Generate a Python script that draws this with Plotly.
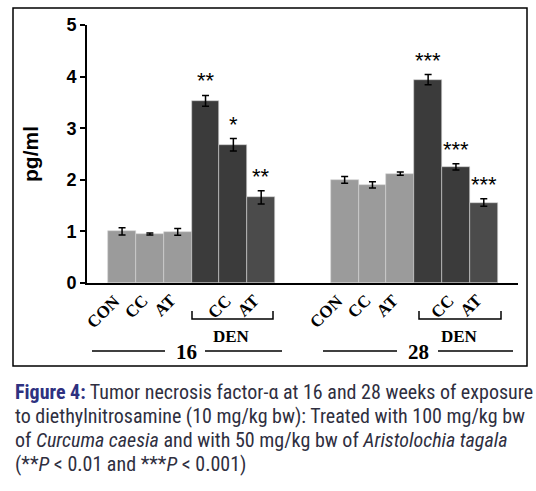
import plotly.graph_objects as go

# ---- data ----
groups = ["CON", "CC", "AT", "DEN", "DEN+CC", "DEN+AT"]
tick_labels = ["CON", "CC", "AT", "", "CC", "AT"]
week_labels = ["16", "28"]
week16 = [1.00, 0.95, 0.99, 3.53, 2.68, 1.66]
err16 = [0.07, 0.02, 0.065, 0.105, 0.12, 0.13]
week28 = [2.00, 1.90, 2.12, 3.94, 2.25, 1.56]
err28 = [0.065, 0.06, 0.03, 0.10, 0.06, 0.075]
sig16 = ["", "", "", "**", "*", "**"]
sig28 = ["", "", "", "***", "***", "***"]
y_ticks = [0, 1, 2, 3, 4, 5]

bar_colors = ["#9b9b9b", "#9b9b9b", "#9b9b9b", "#3b3b3b", "#3b3b3b", "#4b4b4b"]

# positions: two blocks of 6 slots, 2-slot gap
offsets = [0, 8]
W, H = 536, 491
L, R, T, B = 87, 18, 25, 208
xr = (-1.26, 14.23)
pw = W - L - R
ph = H - T - B

def px_x(xd):
    return (xd - xr[0]) / (xr[1] - xr[0])

def py(pix):  # pixel y -> paper y
    return (H - B - pix) / ph

def pxp(pix):  # pixel x -> paper x
    return (pix - L) / pw

fig = go.Figure()
all_vals = [week16, week28]
all_errs = [err16, err28]
all_sig = [sig16, sig28]
for g, (vals, errs) in enumerate(zip(all_vals, all_errs)):
    xs = [offsets[g] + i for i in range(len(groups))]
    fig.add_trace(go.Bar(
        x=xs, y=vals, width=1.0,
        marker=dict(color=bar_colors, line=dict(color="#d4d4d4", width=0.6)),
        error_y=dict(type="data", array=errs, visible=True, color="black",
                     thickness=1.5, width=3.5),
        showlegend=False, hoverinfo="skip",
    ))

annotations = []
shapes = []
serif = "Liberation Serif, Times New Roman, serif"
lab_font = dict(family=serif, size=17, color="black")
# decoration layout (pixel positions per group)
bracket_px = [(192, 273), (419, 501)]
den_px = [231, 459]
week_px = [186, 418]
lines_px = [[(92, 165), (205, 282)], [(323, 397), (438, 513)]]
for g in range(2):
    vals, errs, sig = all_vals[g], all_errs[g], all_sig[g]
    off = offsets[g]
    for i in range(len(groups)):
        xd = off + i
        if sig[i]:
            annotations.append(dict(x=xd, y=vals[i] + errs[i], xref="x", yref="y",
                                    text=sig[i], showarrow=False, xanchor="center", yanchor="bottom",
                                    yshift=0, font=dict(family="Arial, Liberation Sans", size=22, color="black")))
        if tick_labels[i]:
            annotations.append(dict(x=px_x(xd) + 5 / pw, y=py(288), xref="paper", yref="paper",
                                    text="<b>%s</b>" % tick_labels[i], textangle=-45,
                                    showarrow=False, xanchor="right", yanchor="top",
                                    font=lab_font))
    x0, x1 = pxp(bracket_px[g][0]), pxp(bracket_px[g][1])
    yb = py(319)
    yt = py(311)
    shapes.append(dict(type="path", xref="paper", yref="paper",
                       path=f"M {x0} {yt} L {x0} {yb} L {x1} {yb} L {x1} {yt}",
                       line=dict(color="black", width=1.5)))
    annotations.append(dict(x=pxp(den_px[g]), y=py(336), xref="paper", yref="paper",
                            text="<b>DEN</b>", showarrow=False, xanchor="center", yanchor="middle",
                            font=dict(family=serif, size=17, color="black")))
    annotations.append(dict(x=pxp(week_px[g]), y=py(352), xref="paper", yref="paper",
                            text="<b>%s</b>" % week_labels[g], showarrow=False,
                            xanchor="center", yanchor="middle",
                            font=dict(family=serif, size=21, color="black")))
    for a, b in lines_px[g]:
        shapes.append(dict(type="line", xref="paper", yref="paper", x0=pxp(a), x1=pxp(b),
                           y0=py(351), y1=py(351), line=dict(color="black", width=1.5)))

# outer border
shapes.append(dict(type="rect", xref="paper", yref="paper",
                   x0=pxp(13), x1=pxp(527), y0=py(366), y1=py(8),
                   line=dict(color="black", width=1.5)))

# caption
cap_font = dict(family="Roboto Condensed, Roboto", size=20, color="#2f2f3f")
caption = [
    "<span style='color:#2e3180'><b>Figure 4:</b></span> Tumor necrosis factor-α at 16 and 28 weeks of exposure",
    "to diethylnitrosamine (10 mg/kg bw): Treated with 100 mg/kg bw",
    "of <i>Curcuma caesia</i> and with 50 mg/kg bw of <i>Aristolochia tagala</i>",
    "(**<i>P</i> &lt; 0.01 and ***<i>P</i> &lt; 0.001)",
]
for k, line in enumerate(caption):
    annotations.append(dict(x=pxp(13), y=py(392 + 24 * k), xref="paper", yref="paper",
                            text=line, showarrow=False, xanchor="left", yanchor="middle",
                            align="left", font=cap_font))

fig.update_layout(
    width=W, height=H,
    margin=dict(l=L, r=R, t=T, b=B, pad=0, autoexpand=False),
    plot_bgcolor="white", paper_bgcolor="white",
    bargap=0,
    xaxis=dict(range=list(xr), showticklabels=False, ticks="", showgrid=False,
               zeroline=False, showline=True, linecolor="black", linewidth=2),
    yaxis=dict(range=[0, 5], tickvals=y_ticks, ticktext=["<b>%d</b>" % v for v in y_ticks],
               showgrid=False, zeroline=False,
               showline=True, linecolor="black", linewidth=2, ticks="outside",
               ticklen=5, tickwidth=2, tickcolor="black",
               tickfont=dict(family="Arial, Liberation Sans", size=18, color="black"),
               title=dict(text="<b>pg/ml</b>", standoff=22,
                          font=dict(family="Arial, Liberation Sans", size=21, color="black"))),
    annotations=annotations,
    shapes=shapes,
)
fig.write_html("out.html", config={"displayModeBar": False},
               post_script="document.body.style.margin='0';document.body.style.overflow='hidden';")
